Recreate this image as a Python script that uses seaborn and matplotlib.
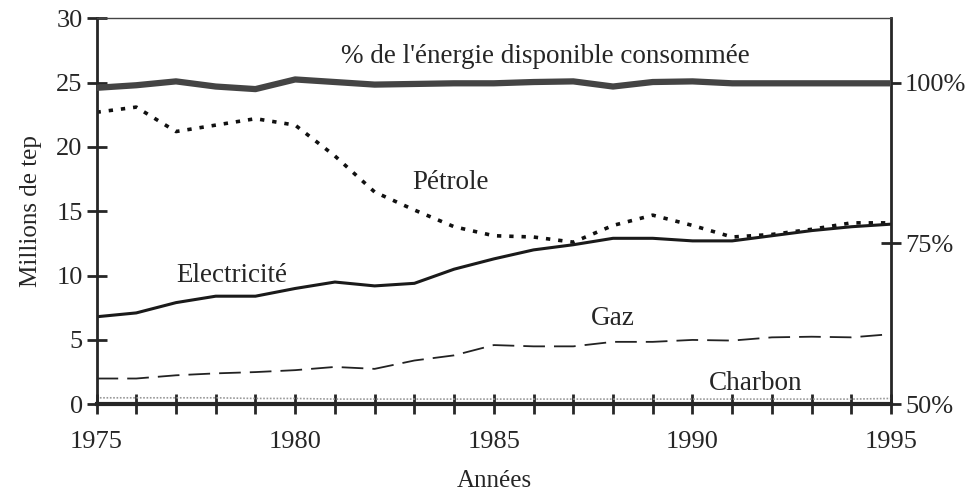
import matplotlib
matplotlib.use("Agg")
import matplotlib.pyplot as plt
import seaborn as sns
import pandas as pd

years = list(range(1975, 1996))

# Millions de tep
petrole = [22.7, 23.1, 21.2, 21.7, 22.2, 21.7, 19.3, 16.5, 15.1, 13.8, 13.1,
           13.0, 12.6, 13.9, 14.7, 13.9, 13.0, 13.2, 13.6, 14.1, 14.1]
electricite = [6.8, 7.1, 7.9, 8.4, 8.4, 9.0, 9.5, 9.2, 9.4, 10.5, 11.3,
               12.0, 12.4, 12.9, 12.9, 12.7, 12.7, 13.1, 13.5, 13.8, 14.0]
gaz = [2.0, 2.0, 2.25, 2.4, 2.5, 2.65, 2.9, 2.75, 3.4, 3.8, 4.6,
       4.5, 4.5, 4.85, 4.85, 5.0, 4.95, 5.2, 5.25, 5.2, 5.45]
charbon = [0.5, 0.5, 0.5, 0.5, 0.45, 0.45, 0.4, 0.4, 0.4, 0.4, 0.4,
           0.4, 0.4, 0.4, 0.4, 0.4, 0.4, 0.4, 0.4, 0.4, 0.45]
# % de l'energie disponible consommee (right axis)
pct_consommee = [99.2, 99.6, 100.2, 99.4, 99.0, 100.5, 100.1, 99.7, 99.8, 99.9, 99.9,
                 100.1, 100.2, 99.4, 100.1, 100.2, 99.9, 99.9, 99.9, 99.9, 99.9]

pct_ticks = [50, 75, 100]
pct_labels = ["50%", "75%", "100%"]

df = pd.DataFrame({"annee": years, "petrole": petrole, "electricite": electricite,
                   "gaz": gaz, "charbon": charbon, "pct": pct_consommee})

sns.set_style("ticks")
plt.rcParams["font.family"] = ["Liberation Serif", "DejaVu Serif"]

fig, ax = plt.subplots(figsize=(9.75, 4.96), dpi=100)
fig.subplots_adjust(left=0.099, right=0.914, top=0.963, bottom=0.185)

sns.lineplot(data=df, x="annee", y="petrole", ax=ax, color="#111111",
             linewidth=2.6, linestyle=(0, (1.2, 2.2)))
sns.lineplot(data=df, x="annee", y="electricite", ax=ax, color="#1a1a1a", linewidth=2.2)
sns.lineplot(data=df, x="annee", y="gaz", ax=ax, color="#222222",
             linewidth=1.3, linestyle=(0, (12, 5)))
sns.lineplot(data=df, x="annee", y="charbon", ax=ax, color="#999999",
             linewidth=1.2, linestyle=(0, (1, 1)))

ax.set_xlim(1975, 1995)
ax.set_ylim(0, 30)
ax.set_xticks(range(1975, 1996, 5))
ax.set_xticks(years, minor=True)
ax.set_yticks(range(0, 31, 5))
ax.set_xlabel("Années", fontsize=18, labelpad=12)
ax.set_ylabel("Millions de tep", fontsize=18, labelpad=10)
ax.tick_params(axis="y", direction="inout", length=14, width=2, labelsize=19, pad=3)
ax.tick_params(axis="x", which="both", direction="inout", length=15, width=2,
               labelsize=19, pad=12)

for side in ["left", "right"]:
    ax.spines[side].set_linewidth(2)
ax.spines["bottom"].set_linewidth(3)
ax.spines["top"].set_linewidth(1)
ax.spines["top"].set_color("#444444")

ax2 = ax.twinx()
sns.lineplot(data=df, x="annee", y="pct", ax=ax2, color="#444444", linewidth=4.5)
ax2.set_ylim(50, 110)
ax2.set_yticks(pct_ticks)
ax2.set_yticklabels(pct_labels)
ax2.set_ylabel("")
ax2.tick_params(axis="y", direction="inout", length=14, width=2, labelsize=19, pad=3)
for sp in ax2.spines.values():
    sp.set_visible(False)

ax.text(1986.3, 27.0, "% de l'énergie disponible consommée", fontsize=19.5, ha="center", va="center")
ax.text(1983.9, 17.2, "Pétrole", fontsize=19.5, ha="center", va="center")
ax.text(1978.4, 10.0, "Electricité", fontsize=19.5, ha="center", va="center")
ax.text(1988.0, 6.7, "Gaz", fontsize=19.5, ha="center", va="center")
ax.text(1991.6, 1.6, "Charbon", fontsize=19.5, ha="center", va="center")

fig.savefig("out.png", dpi=100)
plt.close(fig)
